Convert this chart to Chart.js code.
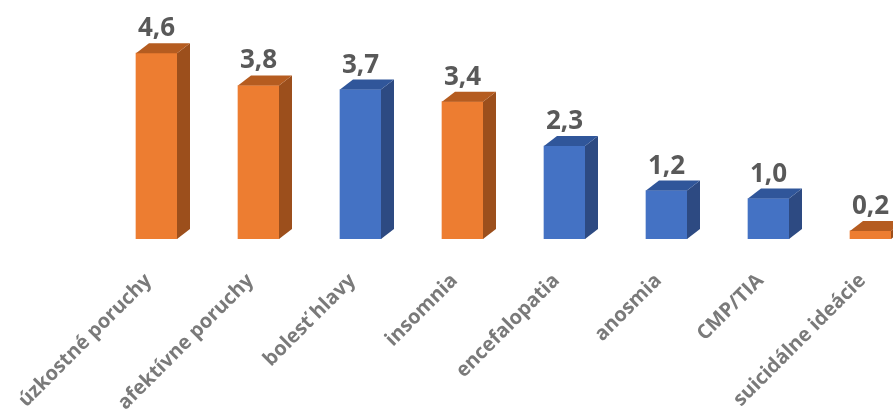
<!DOCTYPE html>
<html>
<head>
<meta charset="utf-8">
<script src="https://cdn.jsdelivr.net/npm/chart.js@4/dist/chart.umd.min.js"></script>
<style>
  html, body { margin: 0; padding: 0; background: #fff; overflow: hidden; }
  #wrap { width: 893px; height: 409px; overflow: hidden; }
</style>
</head>
<body>
<div id="wrap"><canvas id="chart" width="940" height="409"></canvas></div>
<script>
// data
const categories = ["úzkostné poruchy", "afektívne poruchy", "bolesť hlavy", "insomnia",
                    "encefalopatia", "anosmia", "CMP/TIA", "suicidálne ideácie"];
const values = [4.6, 3.8, 3.7, 3.4, 2.3, 1.2, 1.0, 0.2];
const groups = ["psych", "psych", "neuro", "psych", "neuro", "neuro", "neuro", "psych"];

// colours: front, side, top
const palette = {
    psych: { front: "#ED7D31", side: "#9C4F1C", top: "#B55C20" },
    neuro: { front: "#4472C4", side: "#2D4A82", top: "#30569A" }
};

const depthX = 13;
const depthY = 10;

// draws the side and top faces plus the value labels
const bar3d = {
    id: 'bar3d',
    afterDatasetsDraw(chart) {
        const ctx = chart.ctx;
        const meta = chart.getDatasetMeta(0);
        meta.data.forEach((bar, i) => {
            const c = palette[groups[i]];
            const half = bar.width / 2;
            const left = bar.x - half;
            const right = bar.x + half;
            const top = bar.y;
            const base = bar.base;

            ctx.save();
            // side
            ctx.fillStyle = c.side;
            ctx.beginPath();
            ctx.moveTo(right, top);
            ctx.lineTo(right + depthX, top - depthY);
            ctx.lineTo(right + depthX, base - depthY);
            ctx.lineTo(right, base);
            ctx.closePath();
            ctx.fill();
            // top
            ctx.fillStyle = c.top;
            ctx.beginPath();
            ctx.moveTo(left, top);
            ctx.lineTo(left + depthX, top - depthY);
            ctx.lineTo(right + depthX, top - depthY);
            ctx.lineTo(right, top);
            ctx.closePath();
            ctx.fill();

            // value label
            ctx.fillStyle = "#595959";
            ctx.font = "bold 26px 'Open Sans'";
            ctx.textAlign = "center";
            ctx.textBaseline = "alphabetic";
            ctx.fillText(values[i].toFixed(1).replace('.', ','), bar.x, top - 17);
            ctx.restore();
        });
    }
};

const ctx = document.getElementById('chart').getContext('2d');
new Chart(ctx, {
    type: 'bar',
    data: {
        labels: categories,
        datasets: [{
            data: values,
            backgroundColor: groups.map(g => palette[g].front),
            barThickness: 41,
            borderWidth: 0
        }]
    },
    options: {
        responsive: false,
        animation: false,
        devicePixelRatio: 1,
        layout: { padding: { left: 105.5, right: 18.5, top: 37, bottom: 0 } },
        plugins: {
            legend: { display: false },
            tooltip: { enabled: false }
        },
        scales: {
            x: {
                grid: { display: false },
                border: { display: false },
                ticks: {
                    minRotation: 45,
                    maxRotation: 45,
                    padding: 22,
                    labelOffset: -8,
                    color: "#7A7A7A",
                    font: { family: "'Open Sans'", size: 20, weight: 'bold' }
                },
                afterFit(scale) {
                    scale.paddingLeft = 0;
                    scale.paddingRight = 0;
                    scale.height = 170;
                }
            },
            y: {
                display: false,
                min: 0,
                max: 5
            }
        }
    },
    plugins: [bar3d]
});
</script>
</body>
</html>
